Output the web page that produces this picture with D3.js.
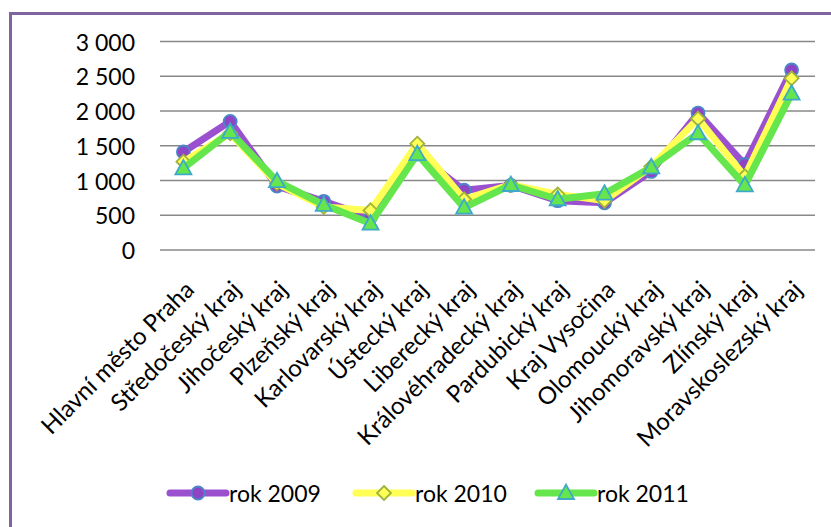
<!DOCTYPE html>
<html>
<head>
<meta charset="utf-8">
<script src="https://cdn.jsdelivr.net/npm/d3@7"></script>
<style>
  html, body { margin: 0; padding: 0; background: #fff; }
  svg { display: block; }
  text { font-family: Lato, "Open Sans", sans-serif; fill: #000; }
</style>
</head>
<body>
<svg id="chart" width="831" height="527"></svg>
<script>
const categories = [
  "Hlavní město Praha", "Středočeský kraj", "Jihočeský kraj", "Plzeňský kraj",
  "Karlovarský kraj", "Ústecký kraj", "Liberecký kraj", "Královéhradecký kraj",
  "Pardubický kraj", "Kraj Vysočina", "Olomoucký kraj", "Jihomoravský kraj",
  "Zlínský kraj", "Moravskoslezský kraj"
];
const seriesNames = ["rok 2009", "rok 2010", "rok 2011"];
const rok2009 = [1410, 1850, 920, 700, 470, 1380, 860, 930, 710, 680, 1130, 1970, 1230, 2590];
const rok2010 = [1270, 1680, 960, 620, 570, 1530, 730, 940, 800, 710, 1200, 1890, 1060, 2470];
const rok2011 = [1175, 1700, 990, 650, 380, 1380, 610, 935, 730, 810, 1190, 1680, 930, 2250];
const yTicks = [0, 500, 1000, 1500, 2000, 2500, 3000];
const yTickLabels = ["0", "500", "1 000", "1 500", "2 000", "2 500", "3 000"];

(function () {
const styles = [
  { line: "#9B50D0", fill: "#8E44C4", stroke: "#4A86C8", marker: "circle" },
  { line: "#FFFF55", fill: "#FFFF55", stroke: "#9FB23C", marker: "diamond" },
  { line: "#66E64D", fill: "#66E64D", stroke: "#3FA9C9", marker: "triangle" }
];
const data = [rok2009, rok2010, rok2011];

const svg = d3.select("#chart");

// border
svg.append("rect")
  .attr("x", 10.5).attr("y", 13.5)
  .attr("width", 900).attr("height", 600)
  .attr("fill", "none").attr("stroke", "#8064A2").attr("stroke-width", 3);

const pLeft = 160, pRight = 815, pTop = 41.5, pBottom = 250;
const x = d3.scaleBand().domain(categories).range([pLeft, pRight]);
const y = d3.scaleLinear().domain([0, 3000]).range([pBottom, pTop]);

// gridlines
svg.append("g").selectAll("line").data(yTicks).join("line")
  .attr("x1", pLeft).attr("x2", pRight)
  .attr("y1", d => y(d)).attr("y2", d => y(d))
  .attr("stroke", "#888").attr("stroke-width", 1.6);

// y labels
svg.append("g").selectAll("text").data(yTicks).join("text")
  .attr("x", 135).attr("y", d => y(d))
  .attr("text-anchor", "end").attr("dominant-baseline", "central")
  .style("font-size", "23px")
  .text((d, i) => yTickLabels[i]);

// x labels
svg.append("g").selectAll("text").data(categories).join("text")
  .attr("transform", d => `translate(${x(d) + x.bandwidth() / 2},${279}) rotate(-45)`)
  .attr("text-anchor", "end").attr("dy", "0.72em")
  .style("font-size", "24px")
  .text(d => d);

const cx = d => x(d) + x.bandwidth() / 2;

function drawMarker(g, type, px, py, st) {
  if (type === "circle") {
    g.append("circle").attr("cx", px).attr("cy", py).attr("r", 6.5)
      .attr("fill", st.fill).attr("stroke", st.stroke).attr("stroke-width", 1.8);
  } else if (type === "diamond") {
    const s = 7;
    g.append("path").attr("d", `M${px},${py - s}L${px + s},${py}L${px},${py + s}L${px - s},${py}Z`)
      .attr("fill", st.fill).attr("stroke", st.stroke).attr("stroke-width", 1.8);
  } else {
    const s = 8;
    g.append("path").attr("d", `M${px},${py - s * 1.05}L${px + s},${py + s * 0.75}L${px - s},${py + s * 0.75}Z`)
      .attr("fill", st.fill).attr("stroke", st.stroke).attr("stroke-width", 1.8);
  }
}

const line = d3.line().x((d, i) => cx(categories[i])).y(d => y(d));

data.forEach((vals, si) => {
  const st = styles[si];
  const g = svg.append("g");
  g.append("path").datum(vals).attr("d", line)
    .attr("fill", "none").attr("stroke", st.line).attr("stroke-width", 7)
    .attr("stroke-linejoin", "round").attr("stroke-linecap", "round");
  vals.forEach((v, i) => drawMarker(g, st.marker, cx(categories[i]), y(v), st));
});

// legend
const legendX = [170, 356, 538];
const ly = 493;
seriesNames.forEach((name, si) => {
  const st = styles[si];
  const g = svg.append("g");
  g.append("line").attr("x1", legendX[si]).attr("x2", legendX[si] + 56)
    .attr("y1", ly).attr("y2", ly)
    .attr("stroke", st.line).attr("stroke-width", 7).attr("stroke-linecap", "round");
  drawMarker(g, st.marker, legendX[si] + 28, ly, st);
  g.append("text").attr("x", legendX[si] + 59).attr("y", ly)
    .attr("dominant-baseline", "central").style("font-size", "23px").text(name);
});
})();
</script>
</body>
</html>
